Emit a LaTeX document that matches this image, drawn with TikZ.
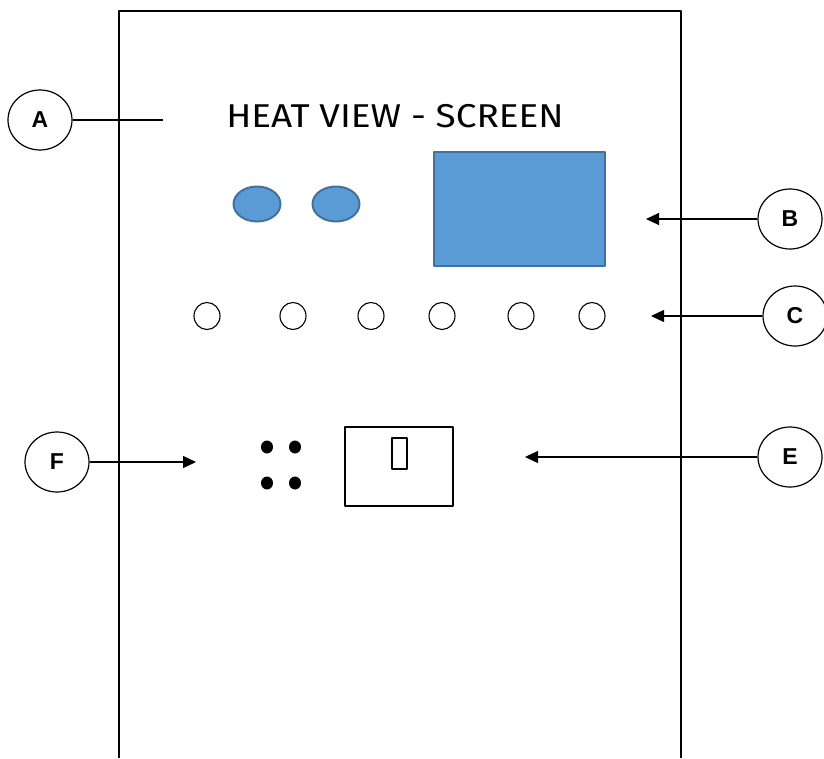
\documentclass[tikz,border=0pt]{standalone}
\usepackage{fontspec}
\setmainfont{Liberation Sans}
\newfontfamily\titlefont{Fira Sans}
\usetikzlibrary{arrows.meta,shapes.geometric}
\definecolor{knob}{HTML}{5B9BD5}
\definecolor{knobedge}{HTML}{41719C}
\tikzset{
  tag/.style={draw, ellipse, line width=1.2pt, minimum width=64pt, minimum height=60pt,
    inner sep=0pt, font=\bfseries\fontsize{23}{23}\selectfont},
  knobshape/.style={fill=knob, draw=knobedge, line width=2pt},
  port/.style={line width=1.1pt},
}
\begin{document}
\begin{tikzpicture}[x=1pt, y=-1pt, line join=round, >={Triangle[length=13pt,width=12pt]}]
  \useasboundingbox (0,0) rectangle (824,758);
  % panel
  \draw[line width=1.3pt] (119,758) -- (119,11) -- (681,11) -- (681,758);
  \node[font=\titlefont\fontsize{33}{33}\selectfont, xscale=1.12] (title) at (395,116) {HEAT VIEW - SCREEN};
  % knobs and screen
  \foreach \x in {257,336}
    \draw[knobshape] (\x,204) ellipse [x radius=23.5pt, y radius=17.5pt];
  \draw[knobshape] (434,152) rectangle (605,266);
  % lamps
  \foreach \x in {207,293,371,442,521,592}
    \draw[port] (\x,316) ellipse [x radius=13pt, y radius=13.5pt];
  % socket
  \foreach \x/\y in {267/447,295/447,267/483,295/483}
    \fill (\x,\y) ellipse [x radius=6pt, y radius=6.5pt];
  \draw[line width=1.3pt] (345,427) rectangle (453,506);
  \draw[line width=1.2pt] (392,438) rectangle (407,469);
  % tags
  \path
    (40,120) node[tag] (A) {A}
    (790,219) node[tag] (B) {B}
    (795,316) node[tag] (C) {C}
    (790,457) node[tag] (E) {E}
    (57,462) node[tag] (F) {F}
    (163,120) coordinate (a)
    (646,219) coordinate (b)
    (651,316) coordinate (c)
    (525,457) coordinate (e)
    (196,462) coordinate (f)
    ;
  \draw[line width=1.2pt] (A) -- (a);
  \foreach \t/\h in {B/b,C/c,E/e,F/f}
    \draw[->, line width=1.2pt] (\t) -- (\h);
\end{tikzpicture}
\end{document}
